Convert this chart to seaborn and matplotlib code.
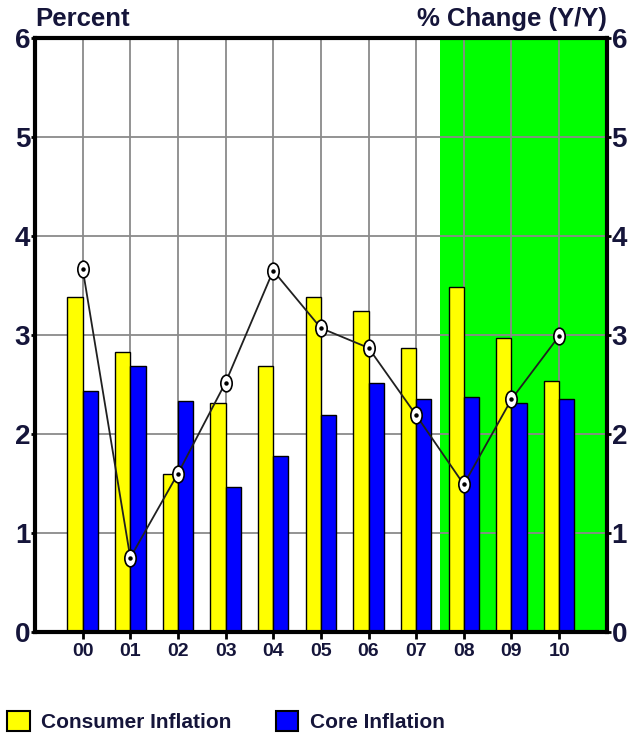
import numpy as np
import pandas as pd
import seaborn as sns
import matplotlib
matplotlib.use('Agg')
import matplotlib.pyplot as plt
from matplotlib import font_manager
from matplotlib.patches import Patch
from matplotlib.path import Path
from matplotlib.transforms import Affine2D

# Data
years = ['00', '01', '02', '03', '04', '05', '06', '07', '08', '09', '10']
consumer = [3.38, 2.83, 1.60, 2.31, 2.69, 3.38, 3.24, 2.87, 3.48, 2.97, 2.54]
core = [2.43, 2.69, 2.33, 1.46, 1.78, 2.19, 2.52, 2.35, 2.37, 2.31, 2.35]
pct_change = [3.67, 0.75, 1.60, 2.52, 3.65, 3.07, 2.87, 2.19, 1.49, 2.35, 2.99]
series_names = ['Consumer Inflation', 'Core Inflation']
forecast_start = 7.5

PALETTE = {'Consumer Inflation': '#ffff00', 'Core Inflation': '#0000ff'}
TEXT = '#15153a'

sns.set_style('white')
plt.rcParams['font.family'] = ['Liberation Sans', 'DejaVu Sans']

# legend text in the reference is a condensed face; use it if installed
names = {f.name for f in font_manager.fontManager.ttflist}
narrow = 'Liberation Sans Narrow' in names
legend_font = {'family': 'Liberation Sans Narrow', 'size': 18, 'weight': 'bold'} if narrow \
    else {'family': 'Liberation Sans', 'size': 15, 'weight': 'bold'}

df = pd.DataFrame({
    'Year': years * 2,
    'Value': consumer + core,
    'Series': [series_names[0]] * len(years) + [series_names[1]] * len(years),
})

fig = plt.figure(figsize=(6.34, 7.4), dpi=100)
ax = fig.add_axes([0.0552, 0.146, 0.9018, 0.8026])

# green shaded forecast region
ax.axvspan(forecast_start, 11, color='#00ff00', zorder=0, lw=0)

sns.barplot(df, x='Year', y='Value', hue='Series', order=years, hue_order=series_names,
            palette=PALETTE, saturation=1, width=0.64, edgecolor='black', linewidth=1,
            legend=False, ax=ax)

# line with elliptical white markers and a dot in the middle
ellipse = Affine2D().scale(0.68, 1.0).transform_path(Path.unit_circle())
xpos = np.arange(len(years))
sns.lineplot(x=xpos, y=pct_change, color='#202020', lw=1.3, marker=ellipse, markersize=12,
             markerfacecolor='white', markeredgecolor='black', markeredgewidth=1.2,
             ax=ax, zorder=5)
ax.plot(xpos, pct_change, ls='none', marker='o', ms=2.2, color='black', zorder=6)

ax.set_xlim(-1, 11)
ax.set_ylim(0, 6)
ax.set_yticks(range(0, 7))
ax.set_xticks(xpos)
ax.set_xticklabels(years)
ax.set_xlabel('')
ax.set_ylabel('')

ax.set_axisbelow(True)
ax.grid(True, color='#8a8a8a', lw=1.3)
for s in ax.spines.values():
    s.set_visible(True)
    s.set_color('black')
    s.set_linewidth(3)

ax.tick_params(axis='y', left=True, right=True, labelleft=True, labelright=True,
               length=3, width=2, pad=0.5, labelsize=20, labelcolor=TEXT, color='black')
ax.tick_params(axis='x', bottom=True, length=5, width=2, pad=3, labelsize=14,
               labelcolor=TEXT, color='black')
for lab in ax.get_yticklabels() + ax.get_xticklabels():
    lab.set_fontweight('bold')

ax.text(0.0, 1.02, 'Percent', transform=ax.transAxes, ha='left', va='baseline',
        fontsize=18.5, fontweight='bold', color=TEXT)
ax.text(1.0, 1.02, '% Change (Y/Y)', transform=ax.transAxes, ha='right', va='baseline',
        fontsize=18.5, fontweight='bold', color=TEXT)

handles = [Patch(facecolor=PALETTE[n], edgecolor='black', lw=1.5, label=n) for n in series_names]
leg = fig.legend(handles=handles, loc='lower left', bbox_to_anchor=(-0.002, -0.0), ncol=2,
                 frameon=False, prop=legend_font, labelcolor=TEXT, handlelength=1.1,
                 handleheight=1.1, handletextpad=0.55, columnspacing=2.1, borderaxespad=0)

fig.savefig('out.png', dpi=100)
